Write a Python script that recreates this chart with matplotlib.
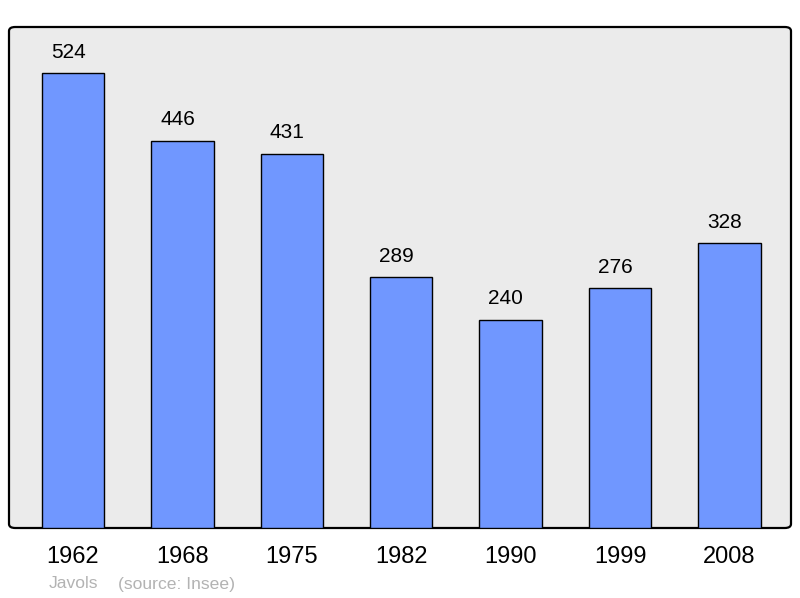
import matplotlib
matplotlib.use("Agg")
import matplotlib.pyplot as plt
from matplotlib.patches import FancyBboxPatch
import numpy as np

years = ["1962", "1968", "1975", "1982", "1990", "1999", "2008"]
population = [524, 446, 431, 289, 240, 276, 328]

plt.rcParams["font.family"] = ["Liberation Sans", "DejaVu Sans"]

W, H = 800, 598
fig = plt.figure(figsize=(8, 5.98), dpi=100)
fig.patch.set_facecolor("white")

# plot frame in pixels
x0, x1, y0, y1 = 9, 791, 27, 528
ax = fig.add_axes([x0 / W, 1 - y1 / H, (x1 - x0) / W, (y1 - y0) / H])
ax.set_facecolor("none")
for s in ax.spines.values():
    s.set_visible(False)

# rounded grey background box
box = FancyBboxPatch((0, 0), 1, 1, boxstyle="round,pad=0,rounding_size=0.008",
                     transform=ax.transAxes, facecolor="#ebebeb",
                     edgecolor="black", linewidth=1.6, zorder=0, clip_on=False)
ax.add_patch(box)

x = np.arange(len(years))
ax.bar(x, population, width=0.57, color="#7097ff", edgecolor="black",
       linewidth=1.0, zorder=2)

for xi, v in zip(x, population):
    ax.text(xi - 0.045, v + 24, str(v), ha="center", va="center", fontsize=15)

ax.set_xlim(-0.585, 6.563)
ax.set_ylim(0, 577)
ax.set_yticks([])
ax.set_xticks(x)
ax.set_xticklabels(years, fontsize=17)
ax.tick_params(axis="x", length=0, pad=13)

fig.text(49 / W, 1 - 584 / H, "Javols", color="#b3b3b3", fontsize=12.6,
         va="center", ha="left")
fig.text(118 / W, 1 - 584 / H, "(source: Insee)", color="#b3b3b3",
         fontsize=12.6, va="center", ha="left")

fig.savefig("out.png", dpi=100)
